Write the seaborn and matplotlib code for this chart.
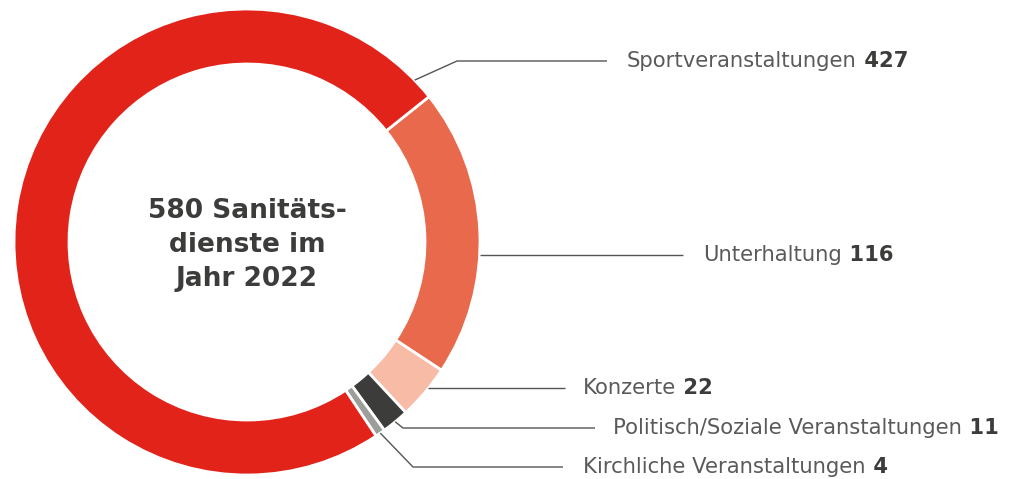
import numpy as np
import matplotlib.pyplot as plt
import seaborn as sns

# data
categories = ["Unterhaltung", "Konzerte", "Politisch/Soziale Veranstaltungen",
              "Kirchliche Veranstaltungen", "Sportveranstaltungen"]
values = [116, 22, 11, 4, 427]
colors = ["#E8694B", "#F7BBA6", "#3C3C3B", "#9D9D9C", "#E2231A"]
center_text = "580 Sanitäts-\ndienste im\nJahr 2022"

sns.set_theme(style="white")
plt.rcParams["font.family"] = ["DejaVu Sans"]

W, H = 1016, 479
fig = plt.figure(figsize=(W / 100, H / 100), dpi=100)
ax = fig.add_axes([0, 0, 1, 1])

cx, cy, R = 247, H - 242, 233
start = 38.6
wedges, _ = ax.pie(values, colors=colors, startangle=start, counterclock=False,
                   radius=R, center=(cx, cy), frame=True,
                   wedgeprops=dict(width=R * 0.236, edgecolor="white", linewidth=2))
ax.set_xlim(0, W)
ax.set_ylim(0, H)
ax.set_aspect("equal")
ax.axis("off")

ax.text(cx, cy - 3, center_text, ha="center", va="center", fontsize=19,
        fontweight="bold", color="#3C3C3B", linespacing=1.42)

# label layout: anchor angle on the ring, elbow x, label y, line end x, text x
layout = {
    "Sportveranstaltungen": (44.0, 457, 61, 607, 627),
    "Unterhaltung": (-3.2, None, 255, 683, 703),
    "Konzerte": (-38.9, None, 388, 565, 583),
    "Politisch/Soziale Veranstaltungen": (-50.5, 403, 428, 595, 613),
    "Kirchliche Veranstaltungen": (-55.1, 413, 467, 563, 583),
}

for cat, val in zip(categories, values):
    ang, ex, ly, lend, tx = layout[cat]
    ly = H - ly
    a = np.deg2rad(ang)
    px, py = cx + R * np.cos(a), cy + R * np.sin(a)
    if ex is None:
        xs, ys = [px, lend], [ly, ly]
    else:
        xs, ys = [px, ex, lend], [py, ly, ly]
    ax.plot(xs, ys, color="#555555", lw=1, solid_capstyle="butt")
    t = ax.text(tx, ly, cat, ha="left", va="center", fontsize=15.2,
                color="#5A5A5A")
    ax.annotate(" " + str(val), xy=(1, 0), xycoords=t, ha="left", va="bottom",
                fontsize=15.2, fontweight="bold", color="#3C3C3B")

fig.savefig("out.png", dpi=100)
